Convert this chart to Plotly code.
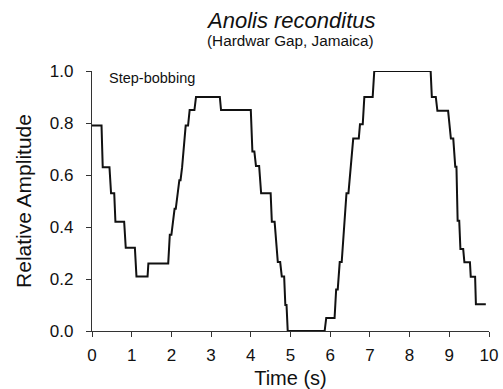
import plotly.graph_objects as go

# Trace of the step-bobbing display (time in s, relative amplitude)
time_s = [0.00, 0.24, 0.27, 0.44, 0.48, 0.56, 0.59, 0.81, 0.85, 1.08, 1.12, 1.40, 1.42,
          1.92, 1.96, 2.00, 2.08, 2.11, 2.20, 2.23, 2.27, 2.32, 2.36, 2.42, 2.46, 2.58,
          2.62, 3.22, 3.25, 4.00, 4.04, 4.09, 4.13, 4.21, 4.26, 4.50, 4.53, 4.60, 4.68,
          4.74, 4.78, 4.84, 4.87, 4.90, 4.93, 5.86, 5.90, 6.11, 6.15, 6.19, 6.24, 6.29,
          6.41, 6.46, 6.58, 6.72, 6.75, 6.82, 6.86, 7.07, 7.11, 8.53, 8.56, 8.66, 8.70,
          8.97, 9.04, 9.10, 9.15, 9.18, 9.21, 9.25, 9.28, 9.35, 9.38, 9.52, 9.54, 9.65,
          9.67, 9.92]
amplitude = [0.79, 0.79, 0.63, 0.63, 0.53, 0.53, 0.42, 0.42, 0.32, 0.32, 0.21, 0.21, 0.26,
             0.26, 0.37, 0.37, 0.47, 0.47, 0.58, 0.58, 0.63, 0.74, 0.79, 0.79, 0.85, 0.85,
             0.90, 0.90, 0.85, 0.85, 0.69, 0.69, 0.635, 0.635, 0.53, 0.53, 0.42, 0.42, 0.265,
             0.265, 0.21, 0.21, 0.10, 0.10, 0.0, 0.0, 0.05, 0.05, 0.16, 0.16, 0.265, 0.265,
             0.53, 0.53, 0.74, 0.74, 0.795, 0.795, 0.90, 0.90, 1.0, 1.0, 0.90, 0.90, 0.847,
             0.847, 0.74, 0.74, 0.632, 0.632, 0.424, 0.424, 0.315, 0.315, 0.264, 0.264, 0.209, 0.209,
             0.103, 0.103]

x_ticks = [0, 1, 2, 3, 4, 5, 6, 7, 8, 9, 10]
y_ticks = [0.0, 0.2, 0.4, 0.6, 0.8, 1.0]

title_text = "Anolis reconditus"
subtitle_text = "(Hardwar Gap, Jamaica)"
display_label = "Step-bobbing"

FONT = "Liberation Sans, Arial, sans-serif"
AX = "#333333"

fig = go.Figure()
fig.add_trace(go.Scatter(x=time_s, y=amplitude, mode="lines",
                         line=dict(color="#111111", width=2),
                         cliponaxis=False, showlegend=False, hoverinfo="skip"))

W, H = 503, 389
ml, mr, mt, mb = 92, 14, 71, 58
ph = H - mt - mb

def py(px):
    return 1 + (mt - px) / ph

fig.update_layout(
    width=W, height=H,
    margin=dict(l=ml, r=mr, t=mt, b=mb, pad=0),
    paper_bgcolor="white", plot_bgcolor="white",
    font=dict(family=FONT, color="#111111"),
    xaxis=dict(range=[0, 10], tickvals=x_ticks, ticktext=[str(v) for v in x_ticks],
               automargin=False,
               showgrid=False, zeroline=False, showline=True, linecolor=AX, linewidth=1.3,
               ticks="outside", ticklen=5, tickcolor=AX, tickwidth=1.3,
               ticklabelstandoff=3,
               tickfont=dict(size=17, family=FONT, color="#111111"),
               title=dict(text="Time (s)", font=dict(size=20, family=FONT, color="#111111"),
                          standoff=8)),
    yaxis=dict(range=[0, 1.0], tickvals=y_ticks, tickformat=".1f",
               automargin=False,
               showgrid=False, zeroline=False, showline=True, linecolor=AX, linewidth=1.3,
               ticks="outside", ticklen=5, tickcolor=AX, tickwidth=1.3,
               ticklabelstandoff=9,
               tickfont=dict(size=17, family=FONT, color="#111111"),
               title=dict(text="Relative Amplitude", font=dict(size=21, family=FONT, color="#111111"),
                          standoff=12)),
    annotations=[
        dict(text="<i>" + title_text + "</i>", xref="paper", yref="paper", x=0.5, y=py(20),
             xanchor="center", yanchor="middle", showarrow=False,
             font=dict(size=22, family=FONT, color="#111111")),
        dict(text=subtitle_text, xref="paper", yref="paper", x=0.5, y=py(40.5),
             xanchor="center", yanchor="middle", showarrow=False,
             font=dict(size=15.3, family=FONT, color="#111111")),
        dict(text=display_label, xref="x", yref="paper", x=0.37, y=py(78),
             xanchor="left", yanchor="middle", showarrow=False,
             font=dict(size=14.5, family=FONT, color="#111111")),
    ],
)

fig.write_html("out.html")
